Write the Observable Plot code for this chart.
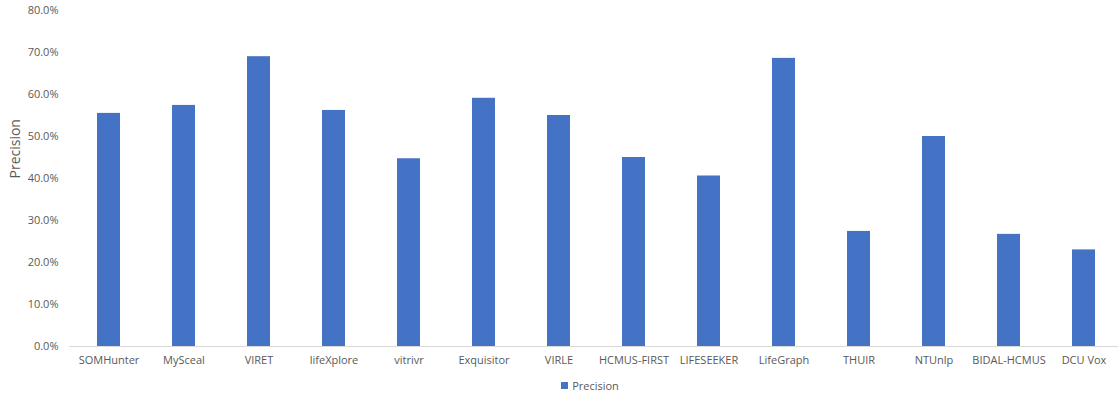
<!DOCTYPE html>
<html>
<head>
<meta charset="utf-8">
<script src="https://cdn.jsdelivr.net/npm/d3@7"></script>
<script src="https://cdn.jsdelivr.net/npm/@observablehq/plot@0.6"></script>
<style>
  body { margin: 0; background: #fff; font-family: "Open Sans", sans-serif; }
  #chart svg { display: block; }
  .legend { display: flex; justify-content: center; align-items: center; height: 26px; font-size: 11px; color: #595959; padding-left: 62px; }
  .legend .sw { width: 7px; height: 7px; background: #4472C4; margin-right: 4px; }
</style>
</head>
<body>
<div id="chart"></div>
<div class="legend"><span class="sw"></span><span>Precision</span></div>
<script>
// Precision per team
const teams = ["SOMHunter", "MySceal", "VIRET", "lifeXplore", "vitrivr", "Exquisitor", "VIRLE",
  "HCMUS-FIRST", "LIFESEEKER", "LifeGraph", "THUIR", "NTUnlp", "BIDAL-HCMUS", "DCU Vox"];
const precision = [0.555, 0.574, 0.690, 0.562, 0.447, 0.591, 0.550,
  0.450, 0.406, 0.686, 0.274, 0.500, 0.267, 0.230];
const yTicks = [0, 0.1, 0.2, 0.3, 0.4, 0.5, 0.6, 0.7, 0.8];

const data = teams.map((t, i) => ({team: t, value: precision[i]}));
const grey = "#595959";

const chart = Plot.plot({
  width: 1118,
  height: 372,
  marginTop: 10,
  marginBottom: 26,
  marginLeft: 69,
  marginRight: 0,
  style: {fontFamily: "'Open Sans', sans-serif", fontSize: "11px", color: grey},
  x: {domain: teams, range: [69, 1123], paddingInner: 0.69, paddingOuter: 0.345, label: null},
  y: {domain: [0, 0.8], label: null},
  marks: [
    Plot.barY(data, {x: "team", y: "value", fill: "#4472C4"}),
    Plot.ruleY([0], {stroke: "#d9d9d9", strokeWidth: 1}),
    Plot.axisY({ticks: yTicks, tickFormat: d3.format(".1%"), tickSize: 0, tickPadding: 11, label: null, fill: grey}),
    Plot.axisX({tickSize: 0, tickPadding: 10, label: null, fill: grey}),
    Plot.text(["Precision"], {frameAnchor: "left", dx: -54, rotate: -90, fontSize: 14, fill: grey})
  ]
});
document.getElementById("chart").appendChild(chart);
</script>
</body>
</html>
